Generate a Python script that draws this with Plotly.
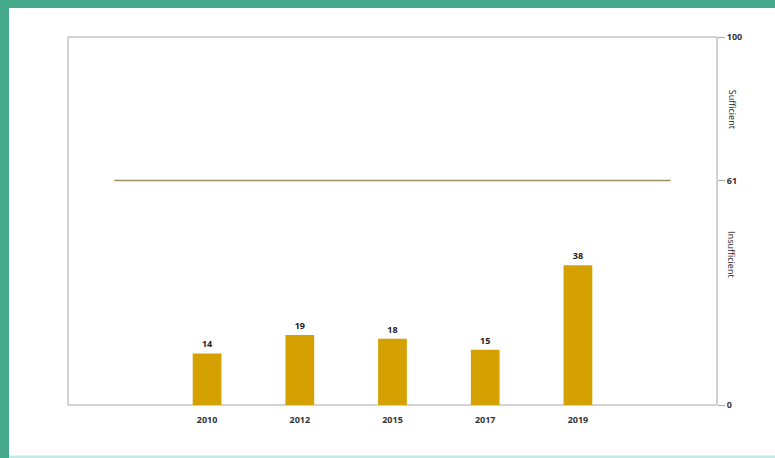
import plotly.graph_objects as go

categories = [" ", "2010", "2012", "2015", "2017", "2019", "  "]
bar_years = ["2010", "2012", "2015", "2017", "2019"]
bar_values = [14, 19, 18, 15, 38]
threshold = 61
y_ticks = [0, 61, 100]
zone_labels = ["Sufficient", "Insufficient"]
zone_label_y = [80.5, 41]

W, H = 775, 458
L, R, T, B = 68, 717, 37, 405
pw, ph = R - L, B - T

def px_x(p):
    return (p - L) / pw

def px_y(p):
    return (B - p) / ph

fig = go.Figure()

fig.add_trace(go.Bar(
    x=bar_years, y=bar_values,
    marker=dict(color="#d4a100", line=dict(width=0)),
    width=0.31,
    text=[f"<b>{v}</b>" for v in bar_values],
    textposition="outside",
    textfont=dict(size=9, color="#222", family="Open Sans"),
    cliponaxis=False,
    showlegend=False,
))

fig.add_trace(go.Scatter(
    x=[categories[0], categories[-1]], y=[threshold, threshold],
    mode="lines", line=dict(color="#a08c68", width=1.3),
    showlegend=False, hoverinfo="skip",
))

shapes = [
    dict(type="rect", xref="paper", yref="paper", x0=px_x(0), x1=px_x(9), y0=px_y(H), y1=px_y(0),
         fillcolor="#45a98b", line=dict(width=0), layer="below"),
    dict(type="rect", xref="paper", yref="paper", x0=px_x(0), x1=px_x(W), y0=px_y(8), y1=px_y(0),
         fillcolor="#45a98b", line=dict(width=0), layer="below"),
    dict(type="rect", xref="paper", yref="paper", x0=px_x(9), x1=px_x(W), y0=px_y(H), y1=px_y(455.5),
         fillcolor="#c3ebe6", line=dict(width=0), layer="below"),
    dict(type="rect", xref="paper", yref="paper", x0=0, x1=1, y0=0, y1=1,
         line=dict(color="#a8a8a8", width=1), layer="below"),
]

annotations = [
    dict(text=t, x=px_x(732), y=yv, xref="paper", yref="y", showarrow=False,
         textangle=90, font=dict(size=9, color="#222", family="Open Sans"),
         xanchor="center", yanchor="middle")
    for t, yv in zip(zone_labels, zone_label_y)
]

fig.update_layout(
    width=W, height=H,
    margin=dict(l=L, r=W - R, t=T, b=H - B, pad=0),
    paper_bgcolor="white", plot_bgcolor="white",
    shapes=shapes,
    annotations=annotations,
    xaxis=dict(
        type="category", categoryorder="array", categoryarray=categories,
        range=[-0.5, len(categories) - 0.5],
        showgrid=False, zeroline=False, showline=False,
        ticks="outside", ticklen=6, tickcolor="rgba(0,0,0,0)",
        tickfont=dict(size=9, color="#333", family="Open Sans"),
        tickvals=bar_years, ticktext=[f"<b>{c}</b>" for c in bar_years],
    ),
    yaxis=dict(
        side="right", range=[0, 100], tickvals=y_ticks,
        ticktext=[f"<b>{v}</b>" for v in y_ticks],
        showgrid=False, zeroline=False,
        showline=True, linecolor="#bcd6e0", linewidth=1,
        ticks="outside", ticklen=7, tickcolor="#a8a8a8",
        tickfont=dict(size=9, color="#333", family="Open Sans"),
    ),
    font=dict(family="Open Sans"),
)

fig.write_html("out.html")
